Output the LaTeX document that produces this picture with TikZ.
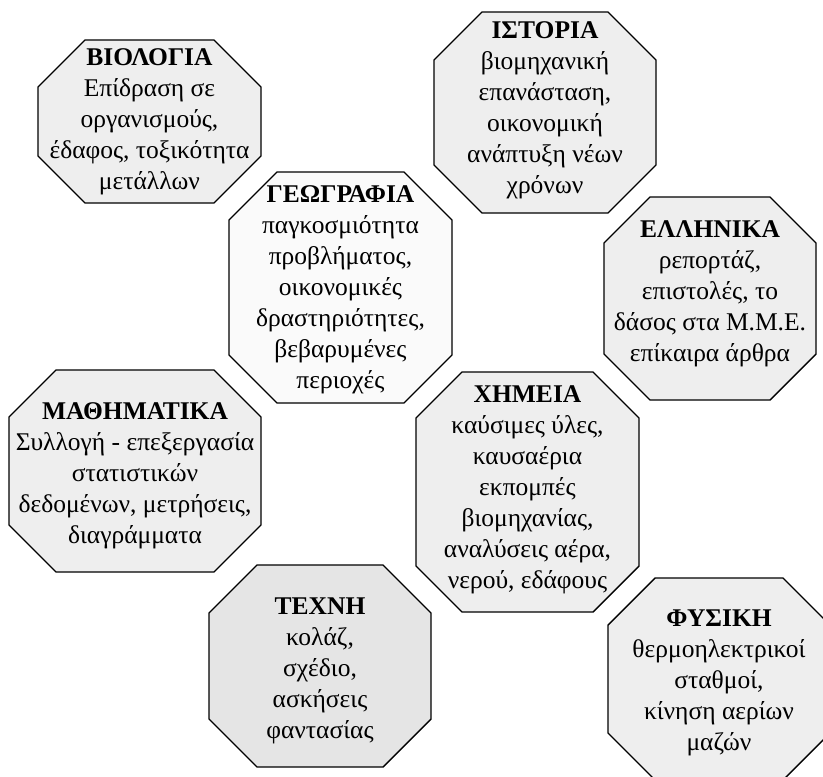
\documentclass[tikz,border=0pt]{standalone}
\usepackage{fontspec}
\setmainfont{Liberation Serif}
\begin{document}
\begin{tikzpicture}[x=1pt,y=-1pt,
  octa/.style={draw=black, line width=1.4pt, line join=miter},
  plain/.style={fill=gray!13},
  pale/.style={fill=gray!4},
  darker/.style={fill=gray!20},
  subject/.style={align=center, font=\fontsize{25.5}{31}\selectfont, inner sep=0pt}]
\useasboundingbox (0,0) rectangle (823,777);
\clip (0,0) rectangle (823,777);
% chamfered box: left, top, right, bottom, style, chamfer
\newcommand\octbox[6]{%
  \draw[octa,#5] ({#1+#6},#2) -- ({#3-#6},#2) -- (#3,{#2+#6}) -- (#3,{#4-#6})
    -- ({#3-#6},#4) -- ({#1+#6},#4) -- (#1,{#4-#6}) -- (#1,{#2+#6}) -- cycle;}

\octbox{38}{40}{261}{203}{plain}{47}
\octbox{434}{12}{656}{213}{plain}{48}
\octbox{229}{172}{452}{403}{pale}{48}
\octbox{604}{197}{816}{400}{plain}{46}
\octbox{9}{370}{261}{572}{plain}{47}
\octbox{416}{372}{639}{612}{plain}{46}
\octbox{209}{565}{431}{767}{darker}{48}
\octbox{608}{578}{830}{780}{plain}{47}

\node[subject] (bio) at (149.5,122) {\textbf{ΒΙΟΛΟΓΙΑ}\\Επίδραση σε\\οργανισμούς,\\έδαφος, τοξικότητα\\μετάλλων};
\node[subject] (ist) at (545,110) {\textbf{ΙΣΤΟΡΙΑ}\\βιομηχανική\\επανάσταση,\\οικονομική\\ανάπτυξη νέων\\χρόνων};
\node[subject] (geo) at (340.5,290) {\textbf{ΓΕΩΓΡΑΦΙΑ}\\παγκοσμιότητα\\προβλήματος,\\οικονομικές\\δραστηριότητες,\\βεβαρυμένες\\περιοχές};
\node[subject] (ell) at (710,294) {\textbf{ΕΛΛΗΝΙΚΑ}\\ρεπορτάζ,\\επιστολές, το\\δάσος στα Μ.Μ.Ε.\\επίκαιρα άρθρα};
\node[subject] (math) at (135,476) {\textbf{ΜΑΘΗΜΑΤΙΚΑ}\\Συλλογή - επεξεργασία\\στατιστικών\\δεδομένων, μετρήσεις,\\διαγράμματα};
\node[subject] (chem) at (527.5,490) {\textbf{ΧΗΜΕΙΑ}\\καύσιμες ύλες,\\καυσαέρια\\εκπομπές\\βιομηχανίας,\\αναλύσεις αέρα,\\νερού, εδάφους};
\node[subject] (art) at (320,671) {\textbf{ΤΕΧΝΗ}\\κολάζ,\\σχέδιο,\\ασκήσεις\\φαντασίας};
\node[subject] (phys) at (719,683) {\textbf{ΦΥΣΙΚΗ}\\θερμοηλεκτρικοί\\σταθμοί,\\κίνηση αερίων\\μαζών};
\end{tikzpicture}
\end{document}
